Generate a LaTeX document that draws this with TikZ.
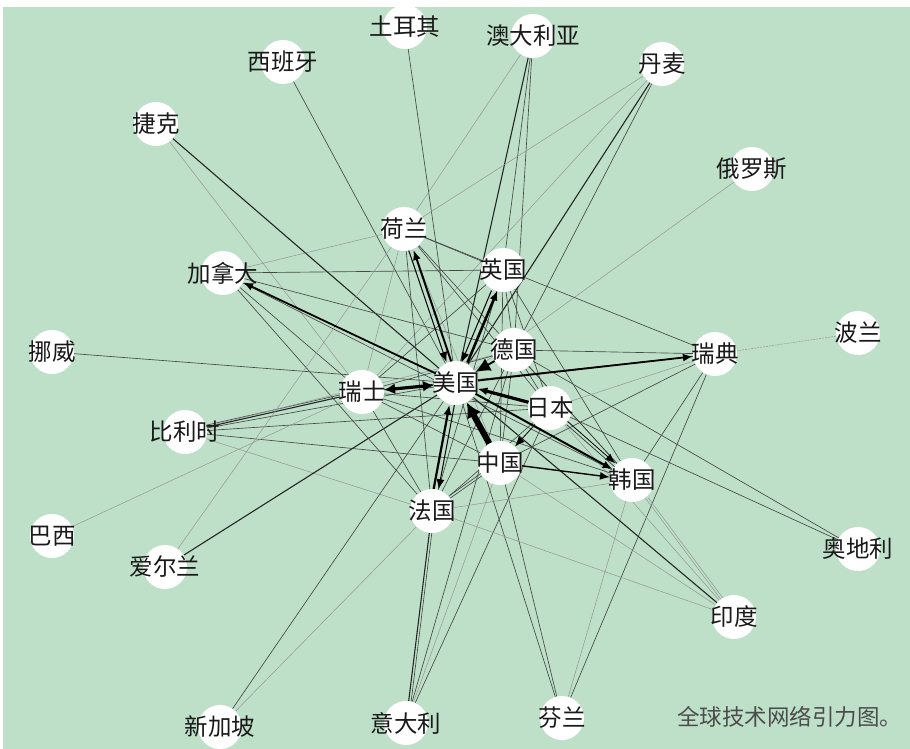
\documentclass[tikz,border=0pt]{standalone}
\usepackage{fontspec}
\newfontfamily\cjk{Noto Sans CJK SC}
\usetikzlibrary{arrows.meta}
\definecolor{bgreen}{HTML}{BEE0C8}
\pgfdeclarelayer{bgl}
\pgfdeclarelayer{edgel}
\pgfsetlayers{bgl,edgel,main}
\begin{document}
\begin{tikzpicture}[x=1pt,y=-1pt,
  dot/.style={circle,fill=white,minimum size=44pt,inner sep=0pt},
  lab/.style={font=\cjk\fontsize{23.5}{23.5}\selectfont,text=black!90,inner sep=0pt},
  tn/.style={line width=0.65pt,draw=black!72},
  tf/.style={line width=0.5pt,draw=black!42},
  tm/.style={line width=1.1pt,draw=black!85},
  ar/.style={draw=black,-{Latex[length=10pt,width=8pt]}},
  arb/.style={draw=black,-{Latex[length=15pt,width=14pt]}}
]
\begin{pgfonlayer}{bgl}
\fill[white] (0,0) rectangle (910,749);
\fill[bgreen] (3,7) rectangle (910,749);
\end{pgfonlayer}
\useasboundingbox (0,0) rectangle (910,749);

% circles
\node[dot] (T)  at (405,27)  {};
\node[dot] (AU) at (533,36)  {};
\node[dot] (ES) at (283,62)  {};
\node[dot] (DK) at (662,64)  {};
\node[dot] (CZ) at (156,124) {};
\node[dot] (RU) at (752,169) {};
\node[dot] (NL) at (404,229) {};
\node[dot] (CA) at (223,273) {};
\node[dot] (UK) at (503,270) {};
\node[dot] (DE) at (514,350) {};
\node[dot] (SE) at (715,354) {};
\node[dot] (PL) at (858,333) {};
\node[dot] (NO) at (52,352)  {};
\node[dot] (US) at (456,383) {};
\node[dot] (CH) at (362,392) {};
\node[dot] (JP) at (550,408) {};
\node[dot] (BE) at (185,432) {};
\node[dot] (CN) at (500,463) {};
\node[dot] (KR) at (632,480) {};
\node[dot] (FR) at (432,511) {};
\node[dot] (BR) at (52,536)  {};
\node[dot] (IE) at (165,567) {};
\node[dot] (AT) at (858,549) {};
\node[dot] (IN) at (734,617) {};
\node[dot] (SG) at (220,727) {};
\node[dot] (IT) at (406,723) {};
\node[dot] (FI) at (562,718) {};

% labels
\node[lab] (lT)  at (T)  {土耳其};
\node[lab] (lAU) at (AU) {澳大利亚};
\node[lab] (lES) at (ES) {西班牙};
\node[lab] (lDK) at (DK) {丹麦};
\node[lab] (lCZ) at (CZ) {捷克};
\node[lab] (lRU) at (RU) {俄罗斯};
\node[lab] (lNL) at (NL) {荷兰};
\node[lab] (lCA) at (CA) {加拿大};
\node[lab] (lUK) at (UK) {英国};
\node[lab] (lDE) at (DE) {德国};
\node[lab] (lSE) at (SE) {瑞典};
\node[lab] (lPL) at (PL) {波兰};
\node[lab] (lNO) at (NO) {挪威};
\node[lab] (lUS) at (US) {美国};
\node[lab] (lCH) at (CH) {瑞士};
\node[lab] (lJP) at (JP) {日本};
\node[lab] (lBE) at (BE) {比利时};
\node[lab] (lCN) at (CN) {中国};
\node[lab] (lKR) at (KR) {韩国};
\node[lab] (lFR) at (FR) {法国};
\node[lab] (lBR) at (BR) {巴西};
\node[lab] (lIE) at (IE) {爱尔兰};
\node[lab] (lAT) at (AT) {奥地利};
\node[lab] (lIN) at (IN) {印度};
\node[lab] (lSG) at (SG) {新加坡};
\node[lab] (lIT) at (IT) {意大利};
\node[lab] (lFI) at (FI) {芬兰};

\node[anchor=west,font=\cjk\fontsize{22.5}{22.5}\selectfont,text=black!70,inner sep=0pt] (cap) at (677,717) {全球技术网络引力图。};

\begin{pgfonlayer}{edgel}
% peripheral edges
\draw[tn] (T) -- (US);
\draw[tn] (ES) -- (US);
\draw[tm] (CZ) -- (US);
\draw[tf] (CZ) -- (CH);
\draw[tf] (AU) -- (NL);
\draw[tm] (AU) -- (US);
\draw[tn] (AU) -- (UK);
\draw[tn] (AU) -- (DE);
\draw[tf] (DK) -- (NL);
\draw[tf] (DK) -- (CH);
\draw[tm] (DK) -- (US);
\draw[tn] (DK) -- (DE);
\draw[tf] (RU) -- (US);
\draw[tf,dash pattern=on 2pt off 1pt] (PL) -- (SE);
\draw[tn] (NO) -- (US);
\draw[tf] (CA) -- (NL);
\draw[tn] (CA) -- (UK);
\draw[tn] (CA) -- (DE);
\draw[tn] (CA) -- (KR);
\draw[tn] (CA) -- (CH);
\draw[tn] (CA) -- (FR);
\draw[tm] (BE) -- (CH);
\draw[tn,transform canvas={yshift=2pt}] (BE) -- (CH);
\draw[tn] (BE) -- (US);
\draw[tn] (BE) -- (JP);
\draw[tn] (BE) -- (CN);
\draw[tf] (BE) -- (FR);
\draw[tf] (BE) -- (DE);
\draw[tf] (BR) -- (CH);
\draw[tf] (IE) -- (NL);
\draw[tm] (IE) -- (US);
\draw[tn] (SG) -- (US);
\draw[tf] (SG) -- (FR);
\draw[tm] (IT) -- (FR);
\draw[tn,transform canvas={xshift=2.5pt}] (IT) -- (FR);
\draw[tn] (IT) -- (DE);
\draw[tn] (IT) -- (JP);
\draw[tf] (IT) -- (CN);
\draw[tn] (FI) -- (US);
\draw[tn] (FI) -- (CN);
\draw[tn] (FI) -- (SE);
\draw[tf] (FI) -- (KR);
\draw[tm] (IN) -- (US);
\draw[tf] (IN) -- (CN);
\draw[tf] (IN) -- (FR);
\draw[tf] (IN) -- (KR);
\draw[tf,transform canvas={xshift=3pt}] (IN) -- (KR);
\draw[tf] (IN) -- (JP);
\draw[tn] (AT) -- (DE);
\draw[tn] (AT) -- (JP);
\draw[tn] (SE) -- (NL);
\draw[tn] (SE) -- (DE);
\draw[tn] (SE) -- (CH);
\draw[tf] (SE) -- (JP);
\draw[tn] (SE) -- (CN);
\draw[tn] (SE) -- (KR);
% core edges
\draw[tn] (NL) -- (UK);
\draw[tf] (NL) -- (CH);
\draw[tn] (NL) -- (FR);
\draw[tn] (NL) -- (JP);
\draw[tf] (NL) -- (CN);
\draw[tn] (NL) -- (KR);
\draw[tn] (UK) -- (CH);
\draw[tn] (UK) -- (FR);
\draw[tn] (UK) -- (CN);
\draw[tn] (UK) -- (JP);
\draw[tn] (UK) -- (KR);
\draw[tn] (UK) -- (DE);
\draw[tn] (DE) -- (CH);
\draw[tn] (DE) -- (FR);
\draw[tn] (DE) -- (CN);
\draw[tn] (DE) -- (JP);
\draw[tn] (DE) -- (KR);
\draw[tn] (CH) -- (JP);
\draw[tn] (CH) -- (CN);
\draw[tn] (CH) -- (KR);
\draw[tn] (CH) -- (FR);
\draw[tn] (JP) -- (FR);
\draw[tn] (CN) -- (FR);
\draw[tn,transform canvas={yshift=3pt}] (CN) -- (FR);
\draw[tf] (KR) -- (FR);
% arrows
\draw[line width=1.8pt,ar] (US) -- (CA);
\draw[line width=1.8pt,ar] (US) -- (SE);
\draw[line width=3.2pt,{Latex[length=11pt,width=11pt]}-{Latex[length=11pt,width=11pt]}] (CH) -- (US);
\draw[line width=1.8pt,arb] (DE) -- (US);
\draw[line width=3.2pt,ar] (JP) -- (US);
\draw[line width=6pt,-{Latex[length=15pt,width=16pt]}] (CN) -- (US);
\draw[line width=2.2pt,ar,transform canvas={xshift=-2.5pt}] (FR) -- (US);
\draw[line width=1pt,ar,transform canvas={xshift=2.5pt}] (US) -- (FR);
\draw[line width=2.6pt,ar,transform canvas={xshift=3pt}] (US) -- (UK);
\draw[line width=1pt,ar,transform canvas={xshift=-3pt}] (UK) -- (US);
\draw[line width=2pt,ar,transform canvas={xshift=2.5pt}] (US) -- (NL);
\draw[line width=1pt,ar,transform canvas={xshift=-2.5pt}] (NL) -- (US);
\draw[line width=2pt,ar] (US) -- (KR);
\draw[line width=1.4pt,ar] (CN) -- (KR);
\draw[line width=0.8pt,ar,transform canvas={yshift=2pt}] (JP) -- (KR);
\draw[line width=0.7pt,transform canvas={yshift=-2pt},draw=black!80] (JP) -- (KR);
\draw[line width=0.8pt,ar] (JP) -- (CN);
\end{pgfonlayer}
\end{tikzpicture}
\end{document}
